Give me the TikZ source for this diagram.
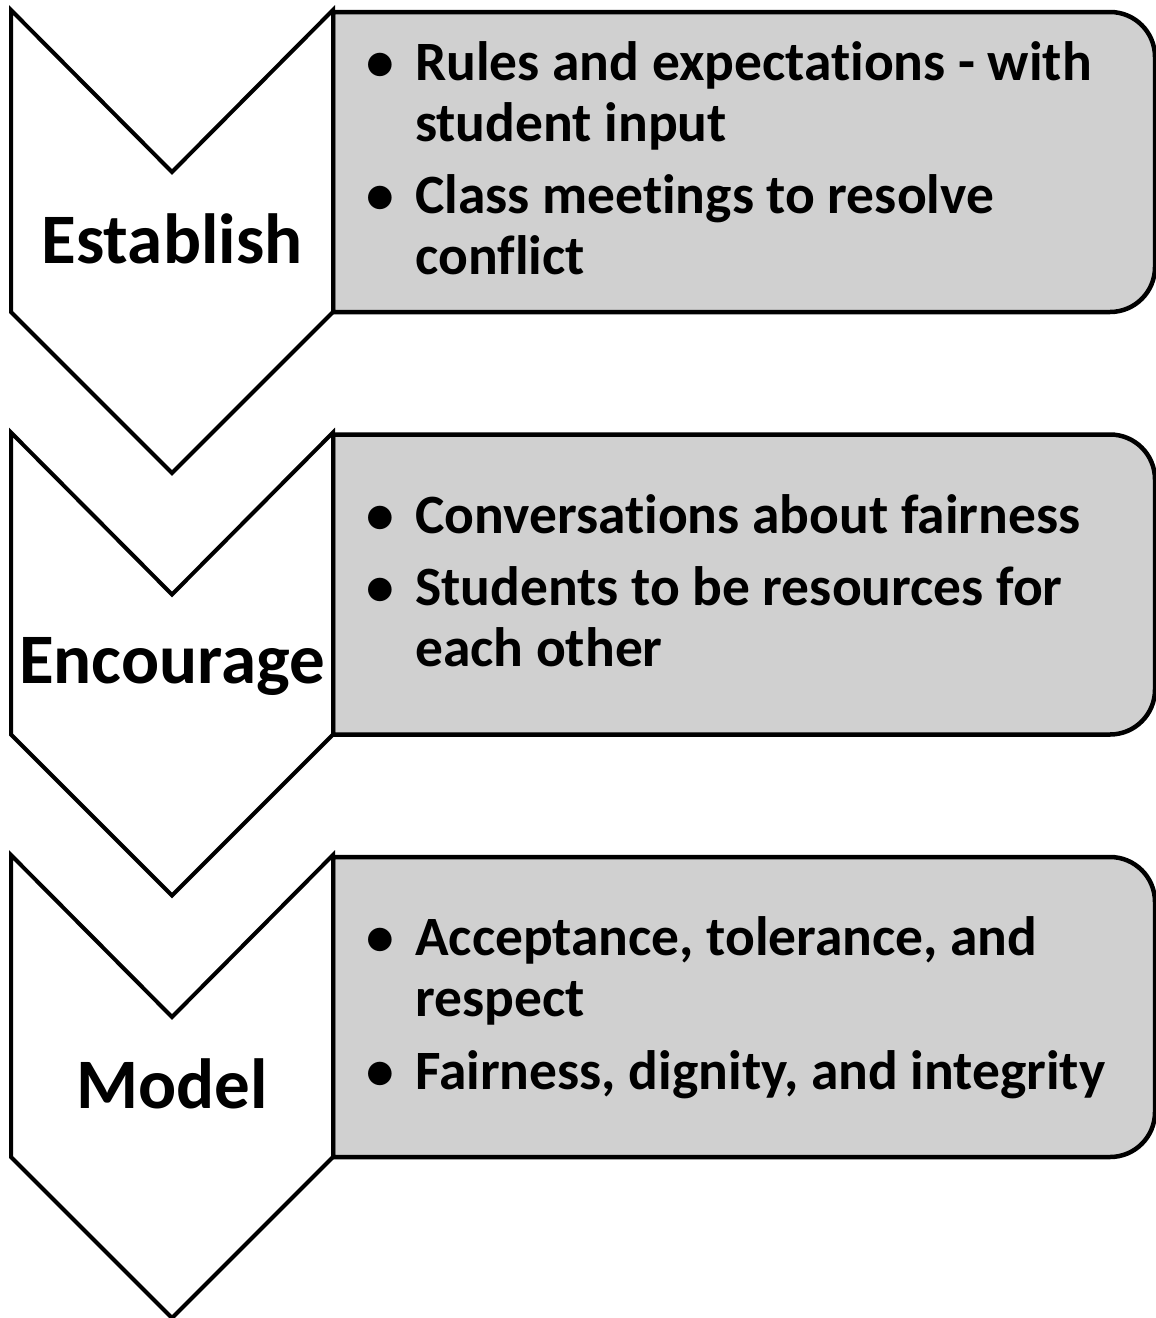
\documentclass[tikz,border=0pt]{standalone}
\usepackage{fontspec}
\setmainfont{Carlito}[Ligatures=NoCommon]
\usepackage{tikz}
\usetikzlibrary{calc}

\definecolor{boxfill}{RGB}{208,208,208}
\newcommand{\itemdot}{\llap{•\hspace{21pt}}}

\begin{document}
\begin{tikzpicture} [x=1pt, y=-1pt,
  chevron/.style={draw=black, fill=white, line width=4pt, line join=miter},
  boxline/.style={draw=black, fill=boxfill, line width=4.5pt},
  steplabel/.style={anchor=base, inner sep=0pt, font=\fontsize{71}{80}\selectfont\bfseries},
  itemtext/.style={anchor=base west, align=left, inner sep=0pt, font=\fontsize{55.5}{61}\selectfont\bfseries}]
\useasboundingbox (0,0) rectangle (1156,1318);

\foreach \k [evaluate=\k as \yk using 422.5*\k] in {0,1,2}
 \draw[boxline] (333,\yk+12) -- (1110,\yk+12) arc[start angle=-90, end angle=0, radius=45]
   -- (1155,\yk+267) arc[start angle=0, end angle=90, radius=45] -- (333,\yk+312) -- cycle;

\foreach \k [evaluate=\k as \yk using 422.5*\k] in {0,1,2}
 \draw[chevron] (11,\yk+10) -- (172,\yk+172) -- (333,\yk+10) -- (333,\yk+312)
   -- (172,\yk+473) -- (11,\yk+312) -- cycle;

\node[steplabel] (establish) at (172,263) {Establish};
\node[steplabel] (encourage) at (172,683) {Encourage};
\node[steplabel] (model) at (172,1108) {Model};

% base anchor sits on the last line
\node[itemtext] (rules) at (415,141) {\itemdot Rules and expectations - with\\student input};
\node[itemtext] (meetings) at (415,274) {\itemdot Class meetings to resolve\\conflict};
\node[itemtext] (talks) at (415,533) {\itemdot Conversations about fairness};
\node[itemtext] (peers) at (415,666) {\itemdot Students to be resources for\\each other};
\node[itemtext] (accept) at (415,1016) {\itemdot Acceptance, tolerance, and\\respect};
\node[itemtext] (dignity) at (415,1089) {\itemdot Fairness, dignity, and integrity};

\end{tikzpicture}
\end{document}
